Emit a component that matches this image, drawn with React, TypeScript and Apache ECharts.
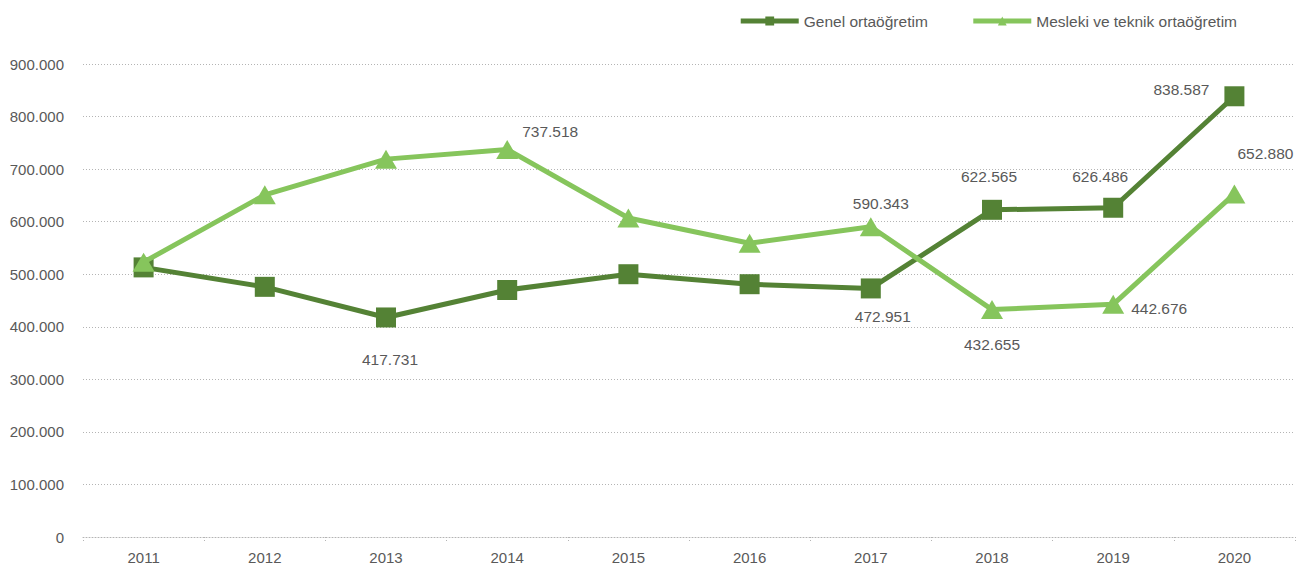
import React, { useEffect, useRef } from "react";
import * as echarts from "echarts";

const years = ["2011", "2012", "2013", "2014", "2015", "2016", "2017", "2018", "2019", "2020"];
const genel = [513000, 476000, 417731, 470000, 500000, 481000, 472951, 622565, 626486, 838587];
const mesleki = [523000, 651000, 719000, 737518, 607000, 559000, 590343, 432655, 442676, 652880];
const genelName = "Genel ortaöğretim";
const meslekiName = "Mesleki ve teknik ortaöğretim";
// label offsets (index -> [dx, dy])
const genelLabels: Record<number, [number, number]> = { 2: [4, 42], 6: [12, 28], 7: [-3, -33], 8: [-13, -31], 9: [-53, -7] };
const meslekiLabels: Record<number, [number, number]> = { 3: [43, -18], 6: [10, -23], 7: [0, 35], 8: [46, 4], 9: [31, -40] };

const FONT = "'Liberation Sans', Arial, sans-serif";
const TEXT = "#595959";
const DARK = "#548235";
const LIGHT = "#86C55C";
const GRID = "#b4b4b4";

function fmt(v: number): string {
  const s = Math.round(v).toString();
  return s.replace(/\B(?=(\d{3})+(?!\d))/g, ".");
}

function buildData(vals: number[], labels: Record<number, [number, number]>) {
  return vals.map((v, i) => {
    const off = labels[i];
    if (!off) return { value: v };
    return {
      value: v,
      label: {
        show: true,
        position: "inside",
        offset: off,
        formatter: (p: any) => fmt(p.value),
        color: TEXT,
        fontFamily: FONT,
        fontSize: 15.5,
        align: "center",
        verticalAlign: "middle",
      },
    };
  });
}

export default function App() {
  const ref = useRef<HTMLDivElement>(null);
  useEffect(() => {
    if (!ref.current) return;
    const chart = echarts.init(ref.current, undefined, { renderer: "svg" });
    chart.setOption({
      animation: false,
      textStyle: { fontFamily: FONT },
      grid: { left: 83, right: 2, top: 64, bottom: 35, containLabel: false },
      legend: {
        top: 8,
        right: 55,
        itemWidth: 58,
        itemHeight: 11,
        itemGap: 43,
        lineStyle: { width: 5 },
        textStyle: { color: TEXT, fontFamily: FONT, fontSize: 15.5 },
        data: [genelName, meslekiName],
      },
      xAxis: {
        type: "category",
        data: years,
        boundaryGap: true,
        axisLine: { show: true, lineStyle: { color: GRID, type: [1, 2], width: 1 } },
        axisTick: { show: true, length: 5, lineStyle: { color: GRID, type: [1, 2] } },
        axisLabel: { color: TEXT, fontFamily: FONT, fontSize: 15, margin: 13 },
      },
      yAxis: {
        type: "value",
        min: 0,
        max: 900000,
        interval: 100000,
        axisLine: { show: false },
        axisTick: { show: false },
        splitLine: { show: true, lineStyle: { color: GRID, type: [1, 2], width: 1 } },
        axisLabel: { color: TEXT, fontFamily: FONT, fontSize: 15, margin: 19, formatter: (v: number) => fmt(v) },
      },
      series: [
        {
          name: genelName,
          type: "line",
          data: buildData(genel, genelLabels),
          symbol: "rect",
          symbolSize: 20,
          lineStyle: { color: DARK, width: 5 },
          itemStyle: { color: DARK },
          z: 2,
        },
        {
          name: meslekiName,
          type: "line",
          data: buildData(mesleki, meslekiLabels),
          symbol: "triangle",
          symbolSize: [22, 19],
          lineStyle: { color: LIGHT, width: 5 },
          itemStyle: { color: LIGHT },
          z: 3,
        },
      ],
    });
    return () => chart.dispose();
  }, []);
  return <div ref={ref} style={{ width: 1297, height: 572, position: "absolute", left: 0, top: 0 }} />;
}
